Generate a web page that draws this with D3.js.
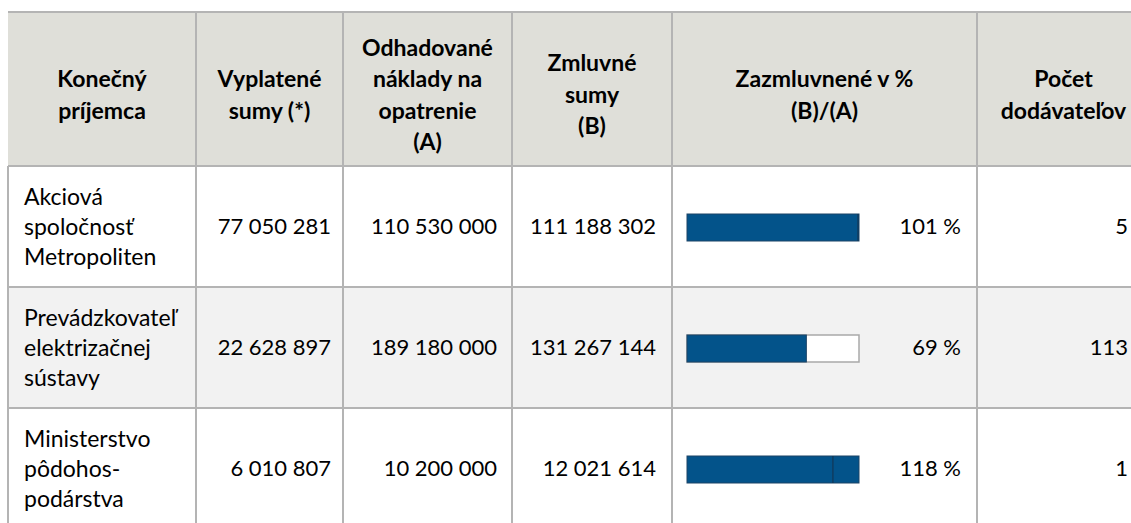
<!DOCTYPE html>
<html>
<head>
<meta charset="utf-8">
<script src="https://cdn.jsdelivr.net/npm/d3@7"></script>
<style>
  body { margin: 0; background: #fff; }
  text { font-family: Lato, "Open Sans", sans-serif; fill: #000; }
  .head { font-weight: bold; font-size: 23px; }
  .cell { font-size: 23px; }
  .num { font-size: 22px; }
  .grid { stroke: #b4b4b4; stroke-width: 2; }
</style>
</head>
<body>
<div id="chart"></div>
<script>
// table contents
const headers = [
    ['Konečný', 'príjemca'],
    ['Vyplatené', 'sumy (*)'],
    ['Odhadované', 'náklady na', 'opatrenie', '(A)'],
    ['Zmluvné', 'sumy', '(B)'],
    ['Zazmluvnené v %', '(B)/(A)'],
    ['Počet', 'dodávateľov']
];
const recipients = [
    ['Akciová', 'spoločnosť', 'Metropoliten'],
    ['Prevádzkovateľ', 'elektrizačnej', 'sústavy'],
    ['Ministerstvo', 'pôdohos-', 'podárstva']
];
const paid = [77050281, 22628897, 6010807];
const estimated = [110530000, 189180000, 10200000];
const contracted = [111188302, 131267144, 12021614];
const suppliers = [5, 113, 1];

function tableChart() {
    let width = 1131,
        height = 523,
        top = 12,
        headHeight = 154,
        rowHeight = 121,
        cols = [8, 196, 343, 512, 672, 977, 1150],
        barLeft = 687,
        barWidth = 172,
        barHeight = 27,
        lineStep = 30,
        headStep = 31.5;

    function chart(selector) {
        let svg = d3.select(selector)
            .append('svg')
            .attr('width', width)
            .attr('height', height)

        let rowIdx = d3.range(recipients.length)
        let y = d3.scaleBand()
            .domain(rowIdx)
            .range([top + headHeight, top + headHeight + rowHeight * rowIdx.length])

        let fmt = d3.formatLocale({ decimal: ',', thousands: ' ', grouping: [3], currency: ['', ' €'] }).format(',d')

        // header background
        svg.append('rect')
            .attr('x', cols[0])
            .attr('y', top)
            .attr('width', cols[cols.length - 1] - cols[0])
            .attr('height', headHeight)
            .attr('fill', '#dfdfd9')

        // striped rows
        svg.selectAll('rect.row')
            .data(rowIdx).enter()
            .append('rect')
            .attr('class', 'row')
            .attr('x', cols[0])
            .attr('y', d => y(d))
            .attr('width', cols[cols.length - 1] - cols[0])
            .attr('height', y.bandwidth())
            .attr('fill', d => d % 2 ? '#f2f2f2' : '#fff')

        // header labels
        let headCenter = top + 82.5
        headers.forEach((lines, c) => {
            let cx = (cols[c] + cols[c + 1]) / 2
            svg.append('g')
                .selectAll('text')
                .data(lines).enter()
                .append('text')
                .attr('class', 'head')
                .attr('x', cx)
                .attr('y', (d, i) => headCenter + (i - (lines.length - 1) / 2) * headStep)
                .attr('dy', '0.36em')
                .attr('text-anchor', 'middle')
                .text(d => d)
        })

        // first column: recipient names
        rowIdx.forEach(r => {
            let cy = y(r) + y.bandwidth() / 2
            svg.append('g')
                .selectAll('text')
                .data(recipients[r]).enter()
                .append('text')
                .attr('class', 'cell')
                .attr('x', cols[0] + 16)
                .attr('y', (d, i) => cy + (i - 1) * lineStep)
                .attr('dy', '0.36em')
                .text(d => d)
        })

        // numeric columns, right aligned
        let numCols = [
            { values: paid, right: cols[2] - 12 },
            { values: estimated, right: cols[3] - 15 },
            { values: contracted, right: cols[4] - 16 },
            { values: suppliers, right: cols[6] - 22 }
        ]
        numCols.forEach(nc => {
            svg.append('g')
                .selectAll('text')
                .data(nc.values).enter()
                .append('text')
                .attr('class', 'num')
                .attr('x', nc.right)
                .attr('y', (d, i) => y(i) + y.bandwidth() / 2)
                .attr('dy', '0.36em')
                .attr('text-anchor', 'end')
                .text(d => fmt(d))
        })

        // ratio bars
        let ratios = rowIdx.map(i => contracted[i] / estimated[i])
        let bars = svg.append('g')
        ratios.forEach((r, i) => {
            let x = d3.scaleLinear()
                .domain([0, Math.max(1, r)])
                .range([barLeft, barLeft + barWidth])
            let by = y(i) + y.bandwidth() / 2 - barHeight / 2 + 1
            if (r < 1) {
                bars.append('rect')
                    .attr('x', x(0))
                    .attr('y', by)
                    .attr('width', x(1) - x(0))
                    .attr('height', barHeight)
                    .attr('fill', '#fff')
                    .attr('stroke', '#a9a9a9')
                    .attr('stroke-width', 1.5)
            }
            bars.append('rect')
                .attr('x', x(0))
                .attr('y', by)
                .attr('width', x(r) - x(0))
                .attr('height', barHeight)
                .attr('fill', '#03538a')
                .attr('stroke', '#1d4467')
                .attr('stroke-width', 1)
            if (r > 1) {
                bars.append('line')
                    .attr('x1', x(1))
                    .attr('x2', x(1))
                    .attr('y1', by)
                    .attr('y2', by + barHeight)
                    .attr('stroke', '#16324d')
                    .attr('stroke-width', 1)
            }
            svg.append('text')
                .attr('class', 'num')
                .attr('x', 961)
                .attr('y', y(i) + y.bandwidth() / 2)
                .attr('dy', '0.36em')
                .attr('text-anchor', 'end')
                .text(Math.round(r * 100) + ' %')
        })

        // grid lines
        let bottom = y.range()[1]
        let hLines = [top, top + headHeight].concat(rowIdx.slice(1).map(d => y(d)))
        svg.selectAll('line.h')
            .data(hLines).enter()
            .append('line')
            .attr('class', 'grid')
            .attr('x1', cols[0])
            .attr('x2', cols[cols.length - 1])
            .attr('y1', d => d)
            .attr('y2', d => d)
        svg.selectAll('line.v')
            .data(cols.slice(1, -1)).enter()
            .append('line')
            .attr('class', 'grid')
            .attr('x1', d => d)
            .attr('x2', d => d)
            .attr('y1', top)
            .attr('y2', bottom)
        svg.append('line')
            .attr('class', 'grid')
            .attr('x1', cols[0])
            .attr('x2', cols[0])
            .attr('y1', top + headHeight)
            .attr('y2', bottom)

        return chart;
    }

    return chart;
}

tableChart()('#chart')
</script>
</body>
</html>
